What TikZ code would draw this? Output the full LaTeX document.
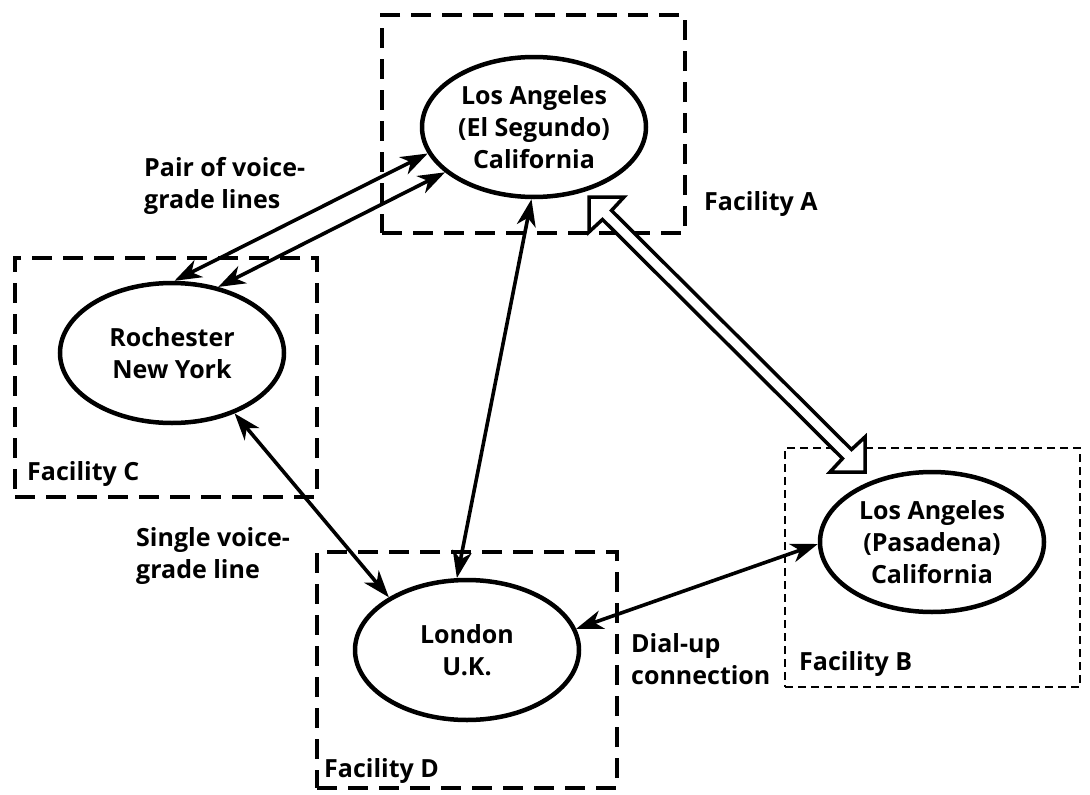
\documentclass[tikz,border=0pt]{standalone}
\usepackage{fontspec}
\setmainfont{Open Sans}
\usetikzlibrary{arrows.meta,shapes.geometric,calc}
\newcommand\lblfont{\fontsize{25}{32}\selectfont\bfseries}
\begin{document}
\begin{tikzpicture}[x=1pt,y=-1pt,
  site/.style={ellipse, draw, line width=4.5pt, inner sep=0pt, align=center, font=\lblfont,
    minimum width=224pt, minimum height=140pt},
  facbox/.style={draw, line width=4.5pt, dash pattern=on 20pt off 11pt, inner sep=0pt},
  thinbox/.style={draw, line width=2pt, dash pattern=on 8pt off 5pt, inner sep=0pt},
  txt/.style={inner sep=0pt, align=left, font=\lblfont},
  con/.style={line width=3.6pt, {Stealth[length=27pt,width=19pt,inset=8pt]}-{Stealth[length=27pt,width=19pt,inset=8pt]}},
  hollow/.style={draw, line width=3.5pt, fill=white, line join=miter}
]
\useasboundingbox (0,0) rectangle (1090,795);

% facility boxes
\node[facbox, minimum width=303pt, minimum height=218pt] (fA) at (533.5,124) {};
\node[facbox, minimum width=302pt, minimum height=239pt] (fC) at (166,377.5) {};
\node[thinbox, minimum width=295pt, minimum height=239pt] (fB) at (932.5,567.5) {};
\node[facbox, minimum width=300pt, minimum height=236pt] (fD) at (467,670) {};

% sites
\node[site] (A) at (534,127) {Los Angeles\\(El Segundo)\\California};
\node[site] (C) at (172,353) {Rochester\\New York};
\node[site] (B) at (932,542) {Los Angeles\\(Pasadena)\\California};
\node[site] (D) at (467,650) {London\\U.K.};

% facility labels
\node[txt, anchor=base west] (lA) at (704,210) {Facility A};
\node[txt, anchor=base west] (lC) at (27,480) {Facility C};
\node[txt, anchor=base west] (lB) at (799,670) {Facility B};
\node[txt, anchor=base west] (lD) at (324,777) {Facility D};

% connector labels
\node[txt, anchor=west] (lpair) at (144,186) {Pair of voice-\\grade lines};
\node[txt, anchor=west] (lsingle) at (136,556) {Single voice-\\grade line};
\node[txt, anchor=west] (ldial) at (631,659) {Dial-up\\connection};

% connectors
\draw[con] (C.88) -- (A.194);
\draw[con] (C.55) -- (A.207);
\draw[con] (D.98) -- (A.268);
\draw[con] (C.-44) -- (D.146);
\draw[con] (D.11) -- (B.181);

% hollow double arrow between A and B
\coordinate (ta) at (589,197);
\coordinate (tb) at (865,472);
\path[hollow] (ta) -- ($(ta)+(35,0)$) -- ($(ta)+(22.5,13.5)$)
  -- ($(tb)+(-13.5,-22.5)$) -- ($(tb)+(0,-35)$) -- (tb)
  -- ($(tb)+(-35,0)$) -- ($(tb)+(-22.5,-13.5)$)
  -- ($(ta)+(13.5,22.5)$) -- ($(ta)+(0,35)$) -- cycle;
\end{tikzpicture}
\end{document}
